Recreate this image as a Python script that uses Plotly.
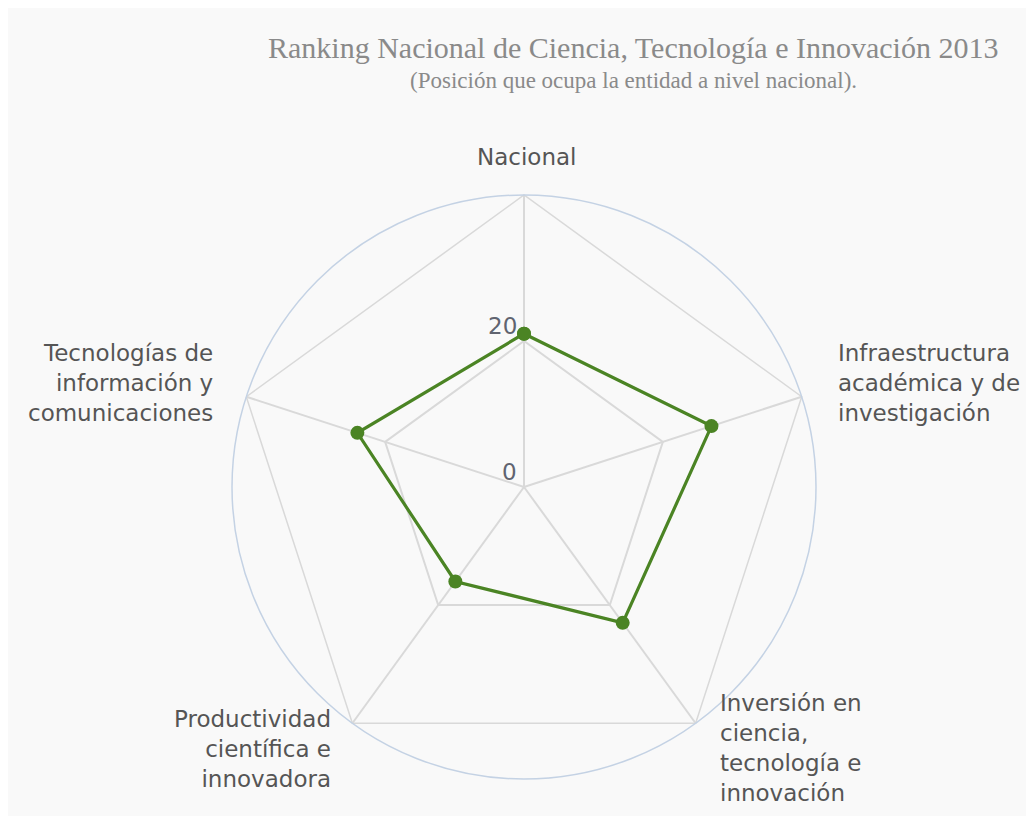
import math
import plotly.graph_objects as go

categories = [
    "Nacional",
    "Infraestructura<br>académica y de<br>investigación",
    "Inversión en<br>ciencia,<br>tecnología e<br>innovación",
    "Productividad<br>científica e<br>innovadora",
    "Tecnologías de<br>información y<br>comunicaciones",
]
values = [21, 27, 23, 16, 24]
radial_ticks = [0, 20]
radial_max = 40

W, H = 1034, 816
OFF = 8  # page body margin
cx0, cx1 = 232 - OFF, 816 - OFF
cy0, cy1 = 195 - OFF, 779 - OFF
dom_x = [cx0 / W, cx1 / W]
dom_y = [1 - cy1 / H, 1 - cy0 / H]

# geometry of polar area in paper fractions
pcx = (dom_x[0] + dom_x[1]) / 2
pcy = (dom_y[0] + dom_y[1]) / 2
Rx = (dom_x[1] - dom_x[0]) / 2
Ry = (dom_y[1] - dom_y[0]) / 2

fig = go.Figure()

# Circular outer boundary (second polar subplot, same domain)
fig.add_trace(go.Scatterpolar(
    r=[0], theta=[categories[0]], mode="markers",
    marker=dict(size=1, color="rgba(0,0,0,0)"),
    hoverinfo="skip", showlegend=False, subplot="polar2",
))

fig.add_trace(go.Scatterpolar(
    r=values + [values[0]],
    theta=categories + [categories[0]],
    mode="lines+markers",
    line=dict(color="#4b8424", width=3.2),
    marker=dict(color="#4b8424", size=14),
    showlegend=False,
    subplot="polar",
))

font_family = "DejaVu Sans"
label_font = dict(size=23, color="#555555", family=font_family)

# category label styling (anchor side and pixel offsets from vertex)
label_style = [
    dict(xanchor="center", align="center", xshift=2, yshift=38),
    dict(xanchor="left", align="left", xshift=34, yshift=14),
    dict(xanchor="left", align="left", xshift=22, yshift=-25),
    dict(xanchor="right", align="right", xshift=-19, yshift=-26),
    dict(xanchor="right", align="right", xshift=-31, yshift=14),
]

annotations = []
n = len(categories)
for i, (cat, st) in enumerate(zip(categories, label_style)):
    ang = math.radians(90 - 360 * i / n)
    annotations.append(dict(
        text=cat, x=pcx + Rx * math.cos(ang), y=pcy + Ry * math.sin(ang),
        xref="paper", yref="paper", showarrow=False,
        xanchor=st["xanchor"], yanchor="middle", align=st["align"],
        xshift=st["xshift"], yshift=st["yshift"], font=label_font,
    ))

for v in radial_ticks:
    annotations.append(dict(
        text=str(v), x=pcx, y=pcy + Ry * v / radial_max,
        xref="paper", yref="paper", showarrow=False,
        xanchor="right", yanchor="middle", xshift=-5, yshift=15,
        font=dict(size=23, color="#606470", family=font_family),
    ))

annotations += [
    dict(text="Ranking Nacional de Ciencia, Tecnología e Innovación 2013",
         x=(633 - OFF) / W, y=1 - (47 - OFF) / H, xref="paper", yref="paper",
         showarrow=False, xanchor="center", yanchor="middle",
         font=dict(family="Liberation Serif", size=30, color="#8a8a8a")),
    dict(text="(Posición que ocupa la entidad a nivel nacional).",
         x=(633 - OFF) / W, y=1 - (80 - OFF) / H, xref="paper", yref="paper",
         showarrow=False, xanchor="center", yanchor="middle",
         font=dict(family="Liberation Serif", size=23, color="#8a8a8a")),
]

fig.update_layout(
    width=W, height=H,
    margin=dict(l=0, r=0, t=0, b=0),
    paper_bgcolor="#f9f9f9",
    plot_bgcolor="#f9f9f9",
    font=dict(family=font_family, color="#555555"),
    polar=dict(
        domain=dict(x=dom_x, y=dom_y),
        bgcolor="rgba(0,0,0,0)",
        gridshape="linear",
        radialaxis=dict(
            range=[0, radial_max],
            tickvals=radial_ticks,
            showticklabels=False,
            angle=90,
            showline=False, ticks="",
            gridcolor="#d9d9d9", gridwidth=1.5,
        ),
        angularaxis=dict(
            direction="clockwise", rotation=90,
            showline=True, linecolor="#d9d9d9", linewidth=1.5,
            gridcolor="#d9d9d9", gridwidth=1.5,
            ticks="", showticklabels=False,
        ),
    ),
    polar2=dict(
        domain=dict(x=dom_x, y=dom_y),
        bgcolor="rgba(0,0,0,0)",
        gridshape="circular",
        radialaxis=dict(range=[0, radial_max], visible=False),
        angularaxis=dict(
            showline=True, linecolor="#c4d2e4", linewidth=1.5,
            showgrid=False, showticklabels=False, ticks="",
        ),
    ),
    annotations=annotations,
)

fig.write_html("out.html")
